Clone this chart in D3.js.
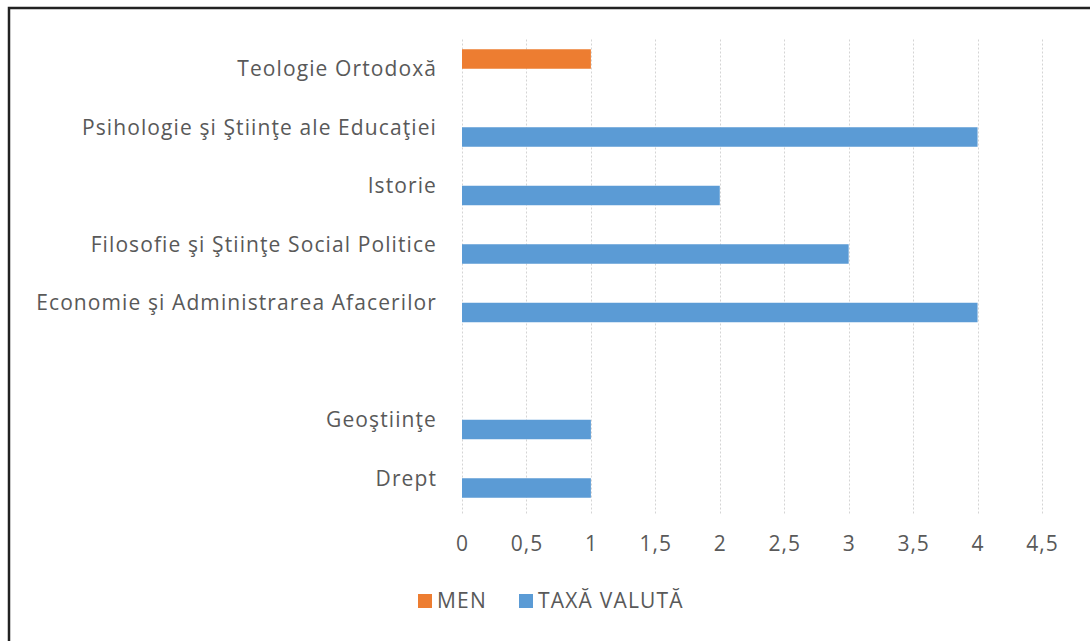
<!DOCTYPE html>
<html>
<head>
<meta charset="utf-8">
<script src="https://cdn.jsdelivr.net/npm/d3@7"></script>
<style>
  body { margin: 0; background: #fff; }
  text { font-family: "Open Sans", sans-serif; fill: #595959; }
</style>
</head>
<body>
<script>
// categories top to bottom (one empty slot, as in the source sheet)
var categories = ["Teologie Ortodoxă", "Psihologie şi Ştiinţe ale Educaţiei", "Istorie",
  "Filosofie şi Ştiinţe Social Politice", "Economie şi Administrarea Afacerilor", "",
  "Geoştiinţe", "Drept"];
var seriesNames = ["MEN", "TAXĂ VALUTĂ"];
var menValues  = [1, 0, 0, 0, 0, 0, 0, 0];
var taxaValues = [0, 4, 2, 3, 4, 0, 1, 1];
var xTicks = [0, 0.5, 1, 1.5, 2, 2.5, 3, 3.5, 4, 4.5];
var colors = ["#ed7d31", "#5b9bd5"];

var W = 1090, H = 641;
var margin = {top: 39.5, left: 462, right: 48, bottom: 133.5};

var svg = d3.select("body").append("svg")
  .attr("width", W).attr("height", H);

// frame (only top and left edges visible)
svg.append("path")
  .attr("d", "M9," + H + "V8H" + W)
  .attr("fill", "none").attr("stroke", "#222").attr("stroke-width", 2.5);

var x = d3.scaleLinear().domain([0, 4.5]).range([margin.left, W - margin.right]);
var y = d3.scaleBand().domain(d3.range(categories.length))
  .range([margin.top, H - margin.bottom]);
var sub = d3.scaleBand().domain([0, 1]).range([0, y.bandwidth()]).paddingOuter(0.5);

// gridlines
svg.append("g").selectAll("line").data(xTicks).enter().append("line")
  .attr("x1", function(d) { return Math.round(x(d)) + 0.5; })
  .attr("x2", function(d) { return Math.round(x(d)) + 0.5; })
  .attr("y1", margin.top).attr("y2", H - margin.bottom + 6)
  .attr("stroke", "#d4d4d4").attr("stroke-width", 1).attr("stroke-dasharray", "2,2");

// bars, series 0 = MEN (upper slot), series 1 = TAXĂ VALUTĂ
var rows = categories.map(function(c, i) { return [menValues[i], taxaValues[i]]; });
var grp = svg.append("g").selectAll("g").data(rows).enter().append("g")
  .attr("transform", function(d, i) { return "translate(0," + y(i) + ")"; });
grp.each(function(d) {
  var g = d3.select(this);
  d.forEach(function(v, j) {
    if (v > 0) g.append("rect")
      .attr("x", x(0)).attr("y", sub(j))
      .attr("width", x(v) - x(0)).attr("height", sub.bandwidth())
      .attr("fill", colors[j]);
  });
});

// category labels
svg.append("g").selectAll("text").data(categories).enter().append("text")
  .attr("x", 437)
  .attr("y", function(d, i) { return y(i) + y.bandwidth() / 2; })
  .attr("dy", "0.35em")
  .attr("text-anchor", "end")
  .style("font-size", "21px")
  .style("letter-spacing", "1.1px")
  .text(function(d) { return d; });

// x axis labels
var xAxis = d3.axisBottom(x).tickValues(xTicks).tickSize(0)
  .tickFormat(function(d) { return String(d).replace(".", ","); });
var ax = svg.append("g")
  .attr("transform", "translate(0," + (H - margin.bottom) + ")")
  .call(xAxis);
ax.select(".domain").remove();
ax.selectAll("text").attr("y", 36).attr("dy", "0.35em")
  .style("font-size", "21px").style("letter-spacing", "1px")
  .attr("fill", "#595959").style("font-family", "'Open Sans', sans-serif");

// legend
var legX = [418, 519];
var leg = svg.append("g").selectAll("g").data(seriesNames).enter().append("g")
  .attr("transform", function(d, i) { return "translate(" + legX[i] + ",601)"; });
leg.append("rect").attr("x", 0).attr("y", -7).attr("width", 14).attr("height", 14)
  .attr("fill", function(d, i) { return colors[i]; });
leg.append("text").attr("x", 19).attr("dy", "0.35em")
  .style("font-size", "21px").style("letter-spacing", "1.2px")
  .text(function(d) { return d; });
</script>
</body>
</html>
